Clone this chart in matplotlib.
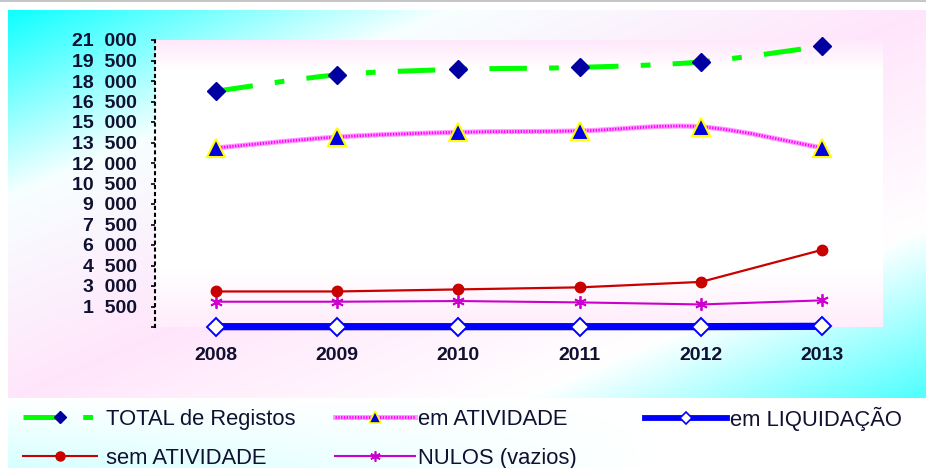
import numpy as np
import matplotlib
matplotlib.use("Agg")
import matplotlib.pyplot as plt
from matplotlib.path import Path
from matplotlib.patches import PathPatch
from matplotlib.lines import Line2D

plt.rcParams['font.family'] = ['Liberation Sans', 'DejaVu Sans']
plt.rcParams['lines.scale_dashes'] = False

# ---- data -------------------------------------------------------------
years = ["2008", "2009", "2010", "2011", "2012", "2013"]
total_registos = [17250, 18450, 18850, 19000, 19400, 20550]
em_atividade = [13100, 13900, 14250, 14350, 14650, 13100]
em_liquidacao = [25, 25, 25, 25, 25, 50]
sem_atividade = [2600, 2600, 2750, 2900, 3300, 5650]
nulos = [1850, 1850, 1900, 1800, 1650, 1950]

ytick_values = [0, 1500, 3000, 4500, 6000, 7500, 9000, 10500, 12000,
                13500, 15000, 16500, 18000, 19500, 21000]
ytick_labels = ["", "1  500", "3  000", "4  500", "6  000", "7  500", "9  000",
                "10  500", "12  000", "13  500", "15  000", "16  500",
                "18  000", "19  500", "21  000"]

series_labels = ["TOTAL de Registos", "em ATIVIDADE", "em LIQUIDAÇÃO",
                 "sem ATIVIDADE", "NULOS (vazios)"]

TEXT = '#101030'
GREEN = '#00ff00'
NAVY = '#0000a0'
PINK_BASE = '#ff9cff'
MAGENTA = '#ff00ff'
BLUE = '#0000ff'
RED = '#c80000'
PURPLE = '#cc00cc'

W, H = 926, 468
fig = plt.figure(figsize=(W / 100, H / 100), dpi=100)


def lerp_stops(t, stops):
    pos = [s[0] for s in stops]
    out = np.empty(t.shape + (3,))
    for c in range(3):
        out[..., c] = np.interp(t, pos, [s[1][c] for s in stops])
    return out


# ---- decorative backdrop ----------------------------------------------
yy, xx = np.mgrid[0:H, 0:W].astype(float)
img = np.ones((H, W, 3))
chart = (xx >= 8) & (yy >= 10) & (yy < 398)
t = ((xx - 8) / (W - 8) + (yy - 10) / 388) / 2
diag = lerp_stops(t, [(0.0, (0.05, 1.0, 1.0)), (0.24, (0.97, 1.0, 1.0)),
                      (0.5, (1.0, 0.90, 0.985)), (0.78, (1.0, 1.0, 1.0)),
                      (1.0, (0.30, 1.0, 1.0))])
img[chart] = diag[chart]
leg_area = (xx >= 8) & (yy >= 398)
s = np.clip((yy - 398) / 70, 0, 1) * np.clip(1 - (xx - 8) / 650, 0, 1) * 0.9
leg_col = (1 - s[..., None]) * np.array([1.0, 1.0, 1.0]) + s[..., None] * np.array([0.82, 1.0, 1.0])
img[leg_area] = leg_col[leg_area]
img[0:2, :, :] = 0.78

bg = fig.add_axes([0, 0, 1, 1], zorder=-1)
bg.imshow(img, aspect='auto', extent=(0, 1, 0, 1), interpolation='bilinear')
bg.set_axis_off()

# ---- plot area --------------------------------------------------------
ax = fig.add_axes([155 / W, 1 - 327 / H, (883 - 155) / W, (327 - 40) / H])
ax.patch.set_visible(False)
f = np.linspace(0, 1, 200)
grad = lerp_stops(f, [(0.0, (1.0, 0.91, 0.985)), (0.1, (1.0, 1.0, 1.0)),
                      (0.8, (1.0, 1.0, 1.0)), (1.0, (1.0, 0.93, 0.985))])[:, None, :]
ax.imshow(grad, extent=(0, 1, 0, 1), transform=ax.transAxes, aspect='auto',
          zorder=0, interpolation='bilinear')

x = np.arange(len(years))


def smooth_path(xs, ys):
    pts = np.column_stack([xs, ys]).astype(float)
    n = len(pts)
    verts = [pts[0]]
    codes = [Path.MOVETO]
    for i in range(n - 1):
        p0 = pts[max(i - 1, 0)]
        p1 = pts[i]
        p2 = pts[i + 1]
        p3 = pts[min(i + 2, n - 1)]
        verts += [p1 + (p2 - p0) / 6, p2 - (p3 - p1) / 6, p2]
        codes += [Path.CURVE4] * 3
    return Path(verts, codes)


green_dash = (0, (27, 16, 7, 16))
dot_style = (0, (1, 1))

# em LIQUIDAÇÃO
ax.plot(x, em_liquidacao, color=BLUE, lw=5.2, marker='D', ms=9.5,
        mfc='#fffff2', mec=BLUE, mew=1.4, zorder=3, clip_on=False)
# NULOS (vazios)
ax.plot(x, nulos, color=PURPLE, lw=1.5, marker=(6, 2, 0), ms=9,
        mec=PURPLE, mew=1.3, zorder=3)
# sem ATIVIDADE
ax.plot(x, sem_atividade, color=RED, lw=1.6, marker='o', ms=7.5,
        mfc=RED, mec=RED, zorder=3)
# em ATIVIDADE (smoothed, checkered pink)
path_at = smooth_path(x, em_atividade)
ax.add_patch(PathPatch(path_at, fill=False, edgecolor=PINK_BASE, lw=3.6, zorder=3))
ax.add_patch(PathPatch(path_at, fill=False, edgecolor=MAGENTA, lw=2.0,
                       linestyle=dot_style, zorder=3))
ax.plot(x, em_atividade, ls='none', marker='^', ms=12.5, mfc='#0000e0',
        mec='#ffff00', mew=1.5, zorder=4)
# TOTAL de Registos (smoothed, dashed)
path_tot = smooth_path(x, total_registos)
ax.add_patch(PathPatch(path_tot, fill=False, edgecolor=GREEN, lw=3.6,
                       linestyle=green_dash, capstyle='butt', zorder=3))
ax.plot(x, total_registos, ls='none', marker='D', ms=9.5, mfc=NAVY,
        mec=NAVY, zorder=4, clip_on=False)

ax.set_xlim(-0.5, len(years) - 0.5)
ax.set_ylim(0, 21000)
ax.set_xticks(x)
ax.set_xticklabels(years)
ax.set_yticks(ytick_values)
ax.set_yticklabels(ytick_labels)

for side in ['top', 'right', 'bottom']:
    ax.spines[side].set_visible(False)
ax.spines['left'].set_linestyle((0, (1.5, 3.5)))
ax.spines['left'].set_linewidth(1.5)
ax.spines['left'].set_color('black')

ax.tick_params(axis='y', direction='out', length=3, width=1.2, pad=10,
               labelsize=14, labelcolor=TEXT, color='black')
ax.tick_params(axis='x', length=0, pad=14.5, labelsize=14, labelcolor=TEXT)
for lbl in ax.get_xticklabels() + ax.get_yticklabels():
    lbl.set_fontweight('bold')

# ---- legend -----------------------------------------------------------
h_total = Line2D([], [], color=GREEN, lw=3.6, ls=green_dash, marker='D', ms=6,
                 mfc=NAVY, mec=NAVY, solid_capstyle='butt', dash_capstyle='butt')
h_ativ = (Line2D([], [], color=PINK_BASE, lw=3.6),
          Line2D([], [], color=MAGENTA, lw=2.0, ls=dot_style),
          Line2D([], [], ls='none', marker='^', ms=8, mfc='#0000e0',
                 mec='#ffff00', mew=1.2))
h_liq = Line2D([], [], color=BLUE, lw=4.2, marker='D', ms=6.5,
               mfc='#fffff2', mec=BLUE, mew=1.2)
h_sem = Line2D([], [], color=RED, lw=1.5, marker='o', ms=6.5, mfc=RED, mec=RED)
h_nul = Line2D([], [], color=PURPLE, lw=1.5, marker=(6, 2, 0), ms=7.5,
               mec=PURPLE, mew=1.2)

leg_kw = dict(loc='upper left', frameon=False, fontsize=15.8, borderpad=0,
              borderaxespad=0, labelcolor=TEXT, labelspacing=0.8)
top_y = 1 - 409 / H
fig.legend([h_total, h_sem], [series_labels[0], series_labels[3]],
           bbox_to_anchor=(23 / W, top_y), handlelength=3.37,
           handletextpad=0.41, **leg_kw)
fig.legend([h_ativ, h_nul], [series_labels[1], series_labels[4]],
           bbox_to_anchor=(335 / W, top_y), handlelength=3.65,
           handletextpad=0.14, **leg_kw)
fig.legend([h_liq], [series_labels[2]],
           bbox_to_anchor=(645 / W, 1 - 407 / H), handlelength=3.74,
           handletextpad=0.14, **leg_kw)

fig.savefig("out.png", dpi=100)
